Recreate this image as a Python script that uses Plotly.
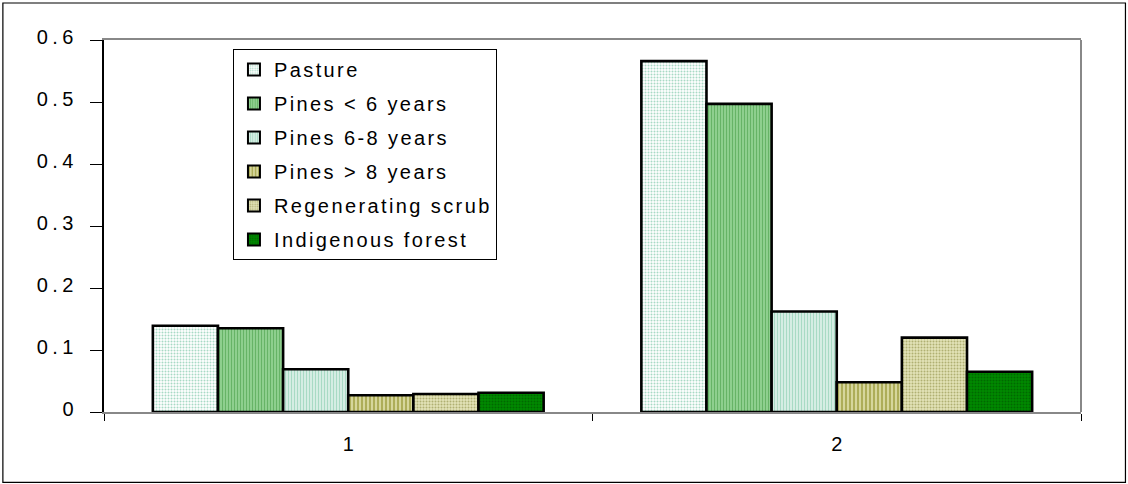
import plotly.graph_objects as go

# Sites on the x axis and the proportion recorded in each habitat
sites = ["1", "2"]
habitats = [
    "Pasture",
    "Pines < 6 years",
    "Pines 6-8 years",
    "Pines > 8 years",
    "Regenerating scrub",
    "Indigenous forest",
]
pasture = [0.139, 0.566]
pines_lt6 = [0.135, 0.497]
pines_6_8 = [0.069, 0.162]
pines_gt8 = [0.027, 0.048]
regen_scrub = [0.029, 0.120]
indigenous = [0.031, 0.065]
y_ticks = [0, 0.1, 0.2, 0.3, 0.4, 0.5, 0.6]
y_tick_text = ["0", "0.1", "0.2", "0.3", "0.4", "0.5", "0.6"]

series = [pasture, pines_lt6, pines_6_8, pines_gt8, regen_scrub, indigenous]

# Fill pattern per habitat: (shape, foreground, background, size, solidity)
patterns = [
    (".", "#a8dac4", "#ffffff", 3, 0.35),
    ("|", "#66b366", "#96d596", 3, 0.45),
    ("|", "#a8dac4", "#ffffff", 3, 0.65),
    ("|", "#9c9c3c", "#d6d69c", 4, 0.35),
    (".", "#b0b072", "#e3e3b8", 3, 0.35),
    (".", "#006800", "#008a00", 3, 0.35),
]

FONT = "Liberation Sans, Arial, sans-serif"

fig = go.Figure()
for name, vals, (shape, fg, bg, size, sol) in zip(habitats, series, patterns):
    fig.add_trace(
        go.Bar(
            name=name,
            legendgroup=name,
            x=sites,
            y=vals,
            marker=dict(
                color=bg,
                line=dict(color="#000000", width=2.6),
                pattern=dict(shape=shape, fgcolor=fg, bgcolor=bg, fgopacity=1,
                             size=size, solidity=sol, fillmode="overlay"),
            ),
        )
    )

fig.update_layout(
    width=1128,
    height=484,
    margin=dict(l=104, r=47, t=40, b=72),
    paper_bgcolor="#ffffff",
    plot_bgcolor="#ffffff",
    barmode="group",
    bargap=0.2,
    bargroupgap=0,
    font=dict(family=FONT, size=20, color="#000000"),
    showlegend=True,
    legend=dict(
        x=0.132,
        y=0.9758,
        xanchor="left",
        yanchor="top",
        bgcolor="#ffffff",
        bordercolor="#000000",
        borderwidth=1,
        font=dict(family=FONT, size=20, color="#000000"),
        tracegroupgap=5,
        itemsizing="constant",
    ),
    xaxis=dict(
        type="category",
        tickson="boundaries",
        ticks="outside",
        ticklen=7,
        tickcolor="#000000",
        tickwidth=1,
        showline=True,
        linecolor="#888888",
        linewidth=2,
        mirror=True,
        showgrid=False,
        tickfont=dict(family=FONT, size=20),
        ticklabelstandoff=13,
    ),
    yaxis=dict(
        range=[0, 0.6],
        tickvals=y_ticks,
        ticktext=y_tick_text,
        ticks="outside",
        ticklen=12,
        tickcolor="#000000",
        tickwidth=1,
        showline=True,
        linecolor="#000000",
        linewidth=2,
        showgrid=False,
        zeroline=False,
        tickfont=dict(family=FONT, size=20),
        ticklabelstandoff=8,
        ticklabelshift=-3,
    ),
    shapes=[
        # right edge of the plot frame
        dict(type="line", xref="paper", yref="paper", x0=1, x1=1, y0=0, y1=1,
             line=dict(color="#888888", width=2)),
        # outer chart border
        dict(type="rect", xref="paper", yref="paper",
             x0=-0.1035, x1=1.0455, y0=-0.1890, y1=1.0995,
             line=dict(color="#000000", width=1.2), layer="below"),
    ],
)

# Widen the character tracking of the legend and value-axis labels, then
# stretch the legend box so it still encloses the wider entries.
tracking_js = """
var gd = document.getElementById('{plot_id}');
function applyTracking() {
  gd.querySelectorAll('.legendtext').forEach(function (t) {
    t.style.letterSpacing = '2.4px';
  });
  gd.querySelectorAll('.ytick text').forEach(function (t) {
    t.style.letterSpacing = '4.5px';
  });
  var leg = gd.querySelector('.legend');
  if (!leg) { return; }
  leg.querySelectorAll('[clip-path]').forEach(function (e) {
    e.removeAttribute('clip-path');
  });
  var bg = leg.querySelector('rect.bg');
  var left = bg.getBoundingClientRect().left;
  var right = 0;
  leg.querySelectorAll('.legendtext').forEach(function (t) {
    right = Math.max(right, t.getBoundingClientRect().right);
  });
  bg.setAttribute('width', (right - left + 5).toFixed(1));
}
applyTracking();
"""

fig.write_html("out.html", post_script=tracking_js)
